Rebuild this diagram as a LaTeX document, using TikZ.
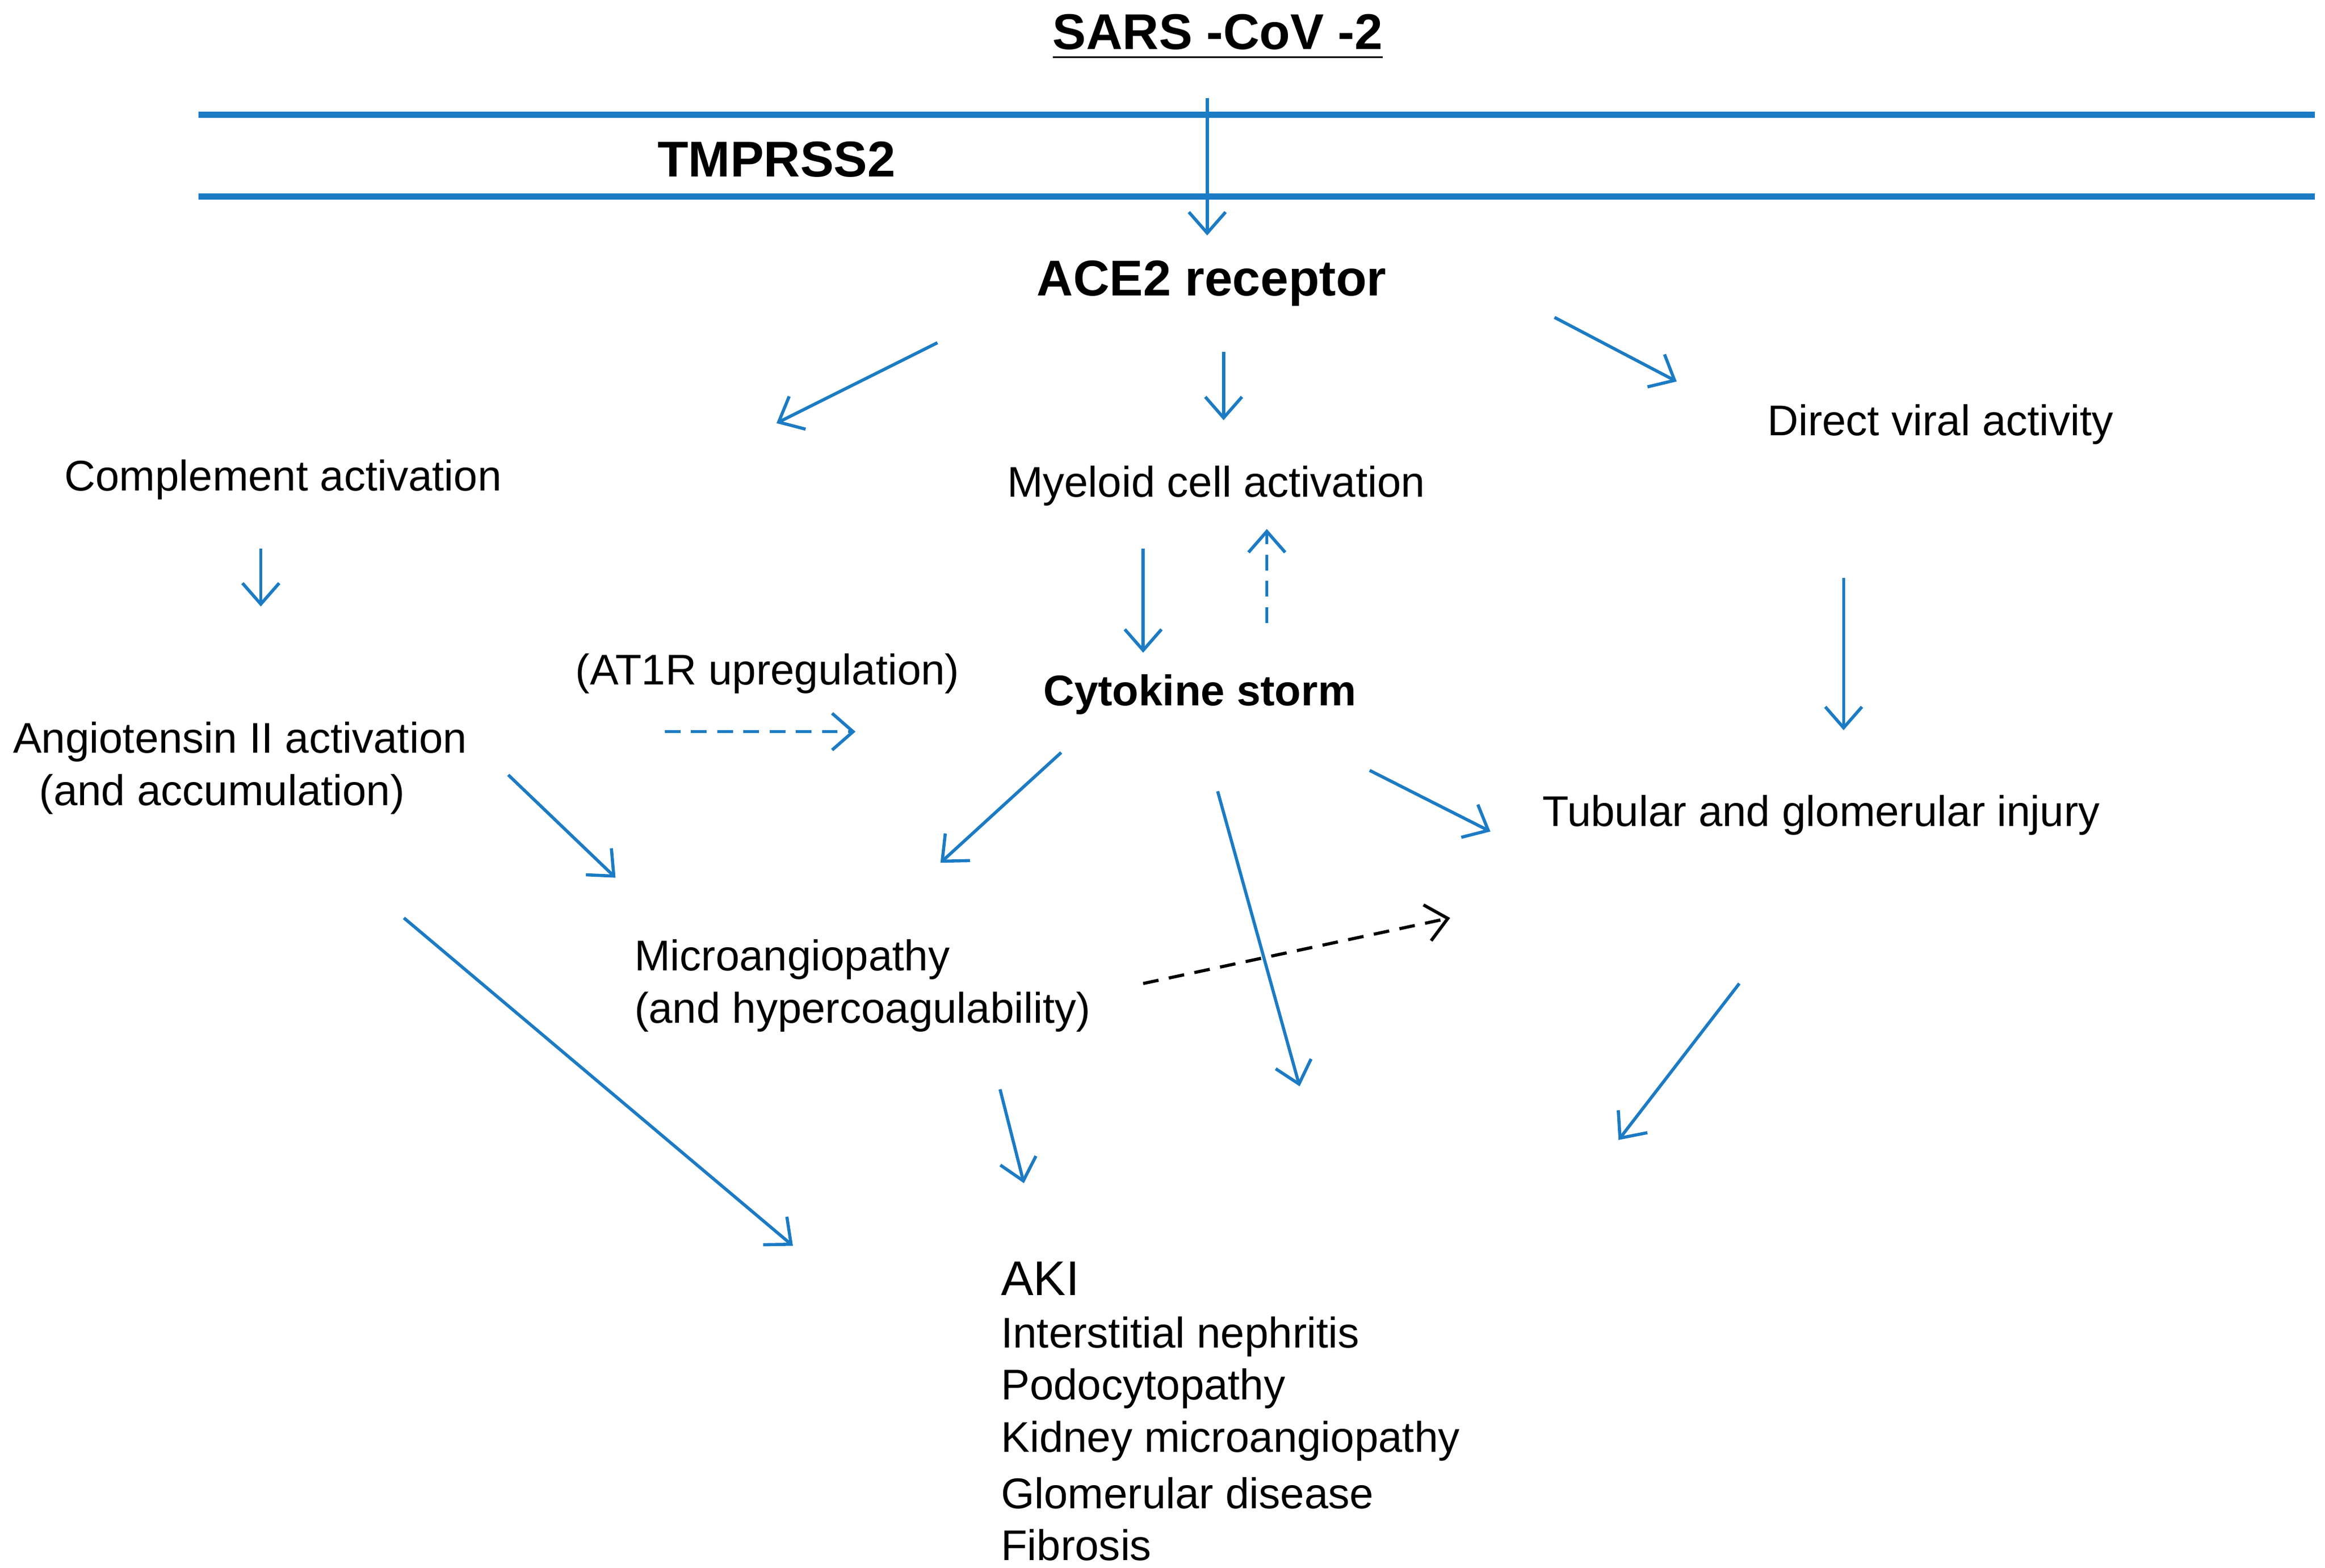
\documentclass[tikz,border=0pt]{standalone}
\usepackage{fontspec}
\setmainfont{Liberation Sans}
\usetikzlibrary{arrows.meta}
\definecolor{ab}{HTML}{1B7BC4}
\begin{document}
\begin{tikzpicture}[x=0.01cm,y=-0.01cm,
  txt/.style={font=\fontsize{8.2}{10}\selectfont,inner sep=0pt},
  lt/.style={txt,anchor=west},
  bt/.style={font=\fontsize{9.6}{11}\selectfont\bfseries,inner sep=0pt},
  arr/.style={draw=ab,line width=0.6pt,-{Straight Barb[length=4pt,width=7pt]}},
  darr/.style={arr,dash pattern=on 3pt off 2pt},
  karr/.style={darr,draw=black}]
\useasboundingbox (0,0) rectangle (1560,1052);
\node[bt] (sars) at (817,25) {\underline{SARS -CoV -2}};
\draw[ab,line width=1.2pt] (133,77) -- (1553,77);
\draw[ab,line width=1.2pt] (133,132) -- (1553,132);
\node[bt] (tmp) at (521,107) {TMPRSS2};
\coordinate (s0) at (810,66); \coordinate (s1) at (810,158);
\draw[arr] (s0) -- (s1);
\node[bt] (ace) at (813,190) {ACE2 receptor};
\coordinate (a1) at (629,230); \coordinate (a2) at (521,284);
\coordinate (b1) at (821,236); \coordinate (b2) at (821,282);
\coordinate (c1) at (1043,213); \coordinate (c2) at (1125,256);
\draw[arr] (a1)--(a2); \draw[arr] (b1)--(b2); \draw[arr] (c1)--(c2);
\node[txt] (comp) at (190,322) {Complement activation};
\node[txt] (mye) at (816,326) {Myeloid cell activation};
\node[txt] (dva) at (1302,285) {Direct viral activity};
\coordinate (d1) at (175,368); \coordinate (d2) at (175,407);
\draw[arr] (d1)--(d2);
\coordinate (e1) at (767,368); \coordinate (e2) at (767,438);
\draw[arr] (e1)--(e2);
\coordinate (f1) at (850,418); \coordinate (f2) at (850,355);
\draw[darr] (f1)--(f2);
\node[txt] (at1r) at (515,452) {(AT1R upregulation)};
\node[font=\fontsize{8.2}{10}\selectfont\bfseries,inner sep=0pt] (cyt) at (805,466) {Cytokine storm};
\coordinate (g1) at (446,491); \coordinate (g2) at (574,491);
\draw[darr] (g1)--(g2);
\node[txt] (ang1) at (161,498) {Angiotensin II activation};
\node[txt] (ang2) at (149,533) {(and accumulation)};
\coordinate (h1) at (1237,388); \coordinate (h2) at (1237,490);
\draw[arr] (h1)--(h2);
\node[txt] (tub) at (1222,547) {Tubular and glomerular injury};
\coordinate (i1) at (712,505); \coordinate (i2) at (631,579);
\coordinate (j1) at (919,517); \coordinate (j2) at (1000,558);
\coordinate (k1) at (817,531); \coordinate (k2) at (872,729);
\coordinate (l1) at (341,520); \coordinate (l2) at (413,589);
\draw[arr] (i1)--(i2); \draw[arr] (j1)--(j2); \draw[arr] (k1)--(k2); \draw[arr] (l1)--(l2);
\node[lt] (mic1) at (425,644) {Microangiopathy};
\node[lt] (mic2) at (425,679) {(and hypercoagulability)};
\coordinate (m1) at (767,660); \coordinate (m2) at (973,616);
\draw[karr] (m1)--(m2);
\coordinate (n1) at (271,616); \coordinate (n2) at (532,836);
\coordinate (o1) at (671,731); \coordinate (o2) at (687,794);
\coordinate (p1) at (1167,660); \coordinate (p2) at (1086,765);
\draw[arr] (n1)--(n2); \draw[arr] (o1)--(o2); \draw[arr] (p1)--(p2);
\node[lt,font=\fontsize{9.3}{11}\selectfont] (aki) at (671,858) {AKI};
\node[lt] (l1t) at (671,897) {Interstitial nephritis};
\node[lt] (l2t) at (671,932) {Podocytopathy};
\node[lt] (l3t) at (671,967) {Kidney microangiopathy};
\node[lt] (l4t) at (671,1002) {Glomerular disease};
\node[lt] (l5t) at (671,1037) {Fibrosis};
\end{tikzpicture}
\end{document}
